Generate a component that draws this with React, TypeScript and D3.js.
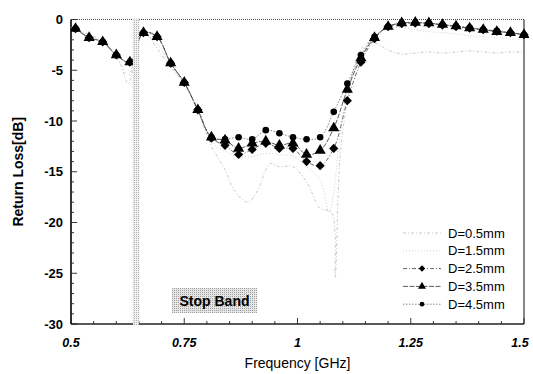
import React from "react";
import * as d3 from "d3";

const W = 533, H = 374;
const M = { left: 71, right: 9, top: 19.5, bottom: 50 };

// marker series frequencies (GHz)
const markerFreq = [0.51,0.54,0.57,0.60,0.63,0.66,0.69,0.72,0.75,0.78,0.81,0.84,0.87,0.90,0.93,0.96,0.99,1.02,1.05,1.08,1.11,1.14,1.17,1.20,1.23,1.26,1.29,1.32,1.35,1.38,1.41,1.44,1.47,1.50];
const d25 = [-0.9,-1.8,-2.2,-3.5,-4.2,-1.3,-1.7,-4.3,-6.2,-8.9,-11.7,-12.4,-13.3,-12.8,-12.2,-12.7,-12.7,-14.0,-14.4,-12.7,-8.0,-4.2,-1.9,-0.7,-0.4,-0.35,-0.4,-0.55,-0.7,-0.85,-1.0,-1.15,-1.3,-1.5];
const d35 = [-0.9,-1.8,-2.2,-3.5,-4.2,-1.3,-1.7,-4.3,-6.2,-8.9,-11.6,-11.9,-12.7,-12.2,-12.0,-12.4,-12.2,-13.3,-12.9,-10.7,-6.9,-3.8,-1.8,-0.7,-0.35,-0.3,-0.35,-0.5,-0.65,-0.85,-1.0,-1.2,-1.3,-1.5];
const d45 = [-0.9,-1.8,-2.2,-3.5,-4.2,-1.3,-1.7,-4.3,-6.2,-8.9,-11.6,-11.8,-11.6,-11.8,-10.9,-11.2,-11.6,-11.8,-11.6,-9.1,-6.3,-3.5,-1.7,-0.7,-0.35,-0.3,-0.35,-0.5,-0.65,-0.8,-1.0,-1.1,-1.3,-1.5];

// dotted series (no markers)
const freq05 = [0.50,0.53,0.56,0.59,0.61,0.626,0.64,0.655,0.67,0.685,0.705,0.73,0.75,0.78,0.81,0.84,0.86,0.89,0.91,0.94,0.96,0.99,1.02,1.05,1.075,1.083,1.09,1.095,1.11,1.13,1.15,1.17,1.20,1.23,1.26,1.29,1.32,1.35,1.38,1.41,1.44,1.47,1.50];
const d05 = [-0.8,-1.3,-1.9,-3.0,-4.5,-6.3,-4.0,-1.5,-1.6,-2.5,-3.8,-5.2,-6.4,-9.0,-12.5,-14.8,-16.8,-18.0,-17.0,-14.2,-14.5,-14.5,-16.0,-18.6,-19.0,-25.4,-17.0,-13.0,-8.0,-4.0,-2.4,-2.3,-3.0,-3.4,-3.3,-3.2,-3.3,-3.2,-3.1,-3.2,-3.3,-3.2,-3.2];
const freq15 = [0.50,0.53,0.56,0.59,0.61,0.625,0.64,0.655,0.67,0.69,0.72,0.75,0.78,0.81,0.84,0.87,0.90,0.93,0.96,0.99,1.02,1.05,1.07,1.08,1.09,1.11,1.14,1.17,1.20,1.23,1.26,1.29,1.32,1.35,1.38,1.41,1.44,1.47,1.50];
const d15 = [-0.8,-1.4,-2.0,-3.2,-4.3,-5.5,-4.0,-1.3,-1.3,-2.3,-4.5,-6.3,-9.0,-12.0,-13.0,-13.5,-13.5,-13.2,-13.3,-13.5,-14.5,-15.8,-19.0,-17.0,-13.0,-7.0,-3.5,-1.6,-0.9,-0.8,-1.0,-1.2,-1.3,-1.4,-1.6,-1.7,-1.8,-1.9,-2.0];

const seriesNames = ["D=0.5mm", "D=1.5mm", "D=2.5mm", "D=3.5mm", "D=4.5mm"];
const xTicks = [0.5, 0.75, 1, 1.25, 1.5];
const xTickLabels = ["0.5", "0.75", "1", "1.25", "1.5"];
const yTicks = [0, -5, -10, -15, -20, -25, -30];
const stopBand = [0.637, 0.65];

export default function App() {
  const x = d3.scaleLinear().domain([0.5, 1.5]).range([M.left, W - M.right]);
  const y = d3.scaleLinear().domain([0, -30]).range([M.top, H - M.bottom]);
  const line = d3.line<[number, number]>().x(d => x(d[0])).y(d => y(d[1])).curve(d3.curveCatmullRom.alpha(0.5));
  const zip = (f: number[], v: number[]) => f.map((ff, i) => [ff, v[i]] as [number, number]);

  const styles = [
    { data: zip(freq05, d05), stroke: "#bcbcbc", dash: "3,2,1,2", width: 0.8, sym: null as any, size: 0, rot: 0 },
    { data: zip(freq15, d15), stroke: "#c4c4c4", dash: "1,2", width: 0.8, sym: null as any, size: 0, rot: 0 },
    { data: zip(markerFreq, d25), stroke: "#444", dash: "4,2,1,2", width: 0.8, sym: d3.symbolSquare, size: 42, rot: 45 },
    { data: zip(markerFreq, d35), stroke: "#333", dash: "5,1.5", width: 0.8, sym: d3.symbolTriangle, size: 54, rot: 0 },
    { data: zip(markerFreq, d45), stroke: "#666", dash: "1.5,1.5", width: 0.8, sym: d3.symbolCircle, size: 34, rot: 0 },
  ];

  const x0 = M.left, x1 = W - M.right, y0 = M.top, y1 = H - M.bottom;
  const minorY = d3.range(0, -31, -1);
  const minorX = d3.range(0.5, 1.5001, 0.05);
  const legX = 403, legY = 233, legDy = 17.8;
  const font = "Liberation Sans, Arial, sans-serif";

  return (
    <svg width={W} height={H} style={{ position: "absolute", left: 0, top: 0, background: "#fff" }} fontFamily={font}>
      <defs>
        <pattern id="stip" width="2" height="2" patternUnits="userSpaceOnUse">
          <rect width="2" height="2" fill="#f2f2f2" />
          <rect width="1" height="1" fill="#b0b0b0" />
        </pattern>
        <pattern id="stip2" width="2" height="2" patternUnits="userSpaceOnUse">
          <rect width="2" height="2" fill="#e6e6e6" />
          <rect width="1" height="1" fill="#a0a0a0" />
        </pattern>
        <clipPath id="clip"><rect x={x0} y={y0 - 5} width={x1 - x0 + 5} height={y1 - y0 + 5} /></clipPath>
      </defs>

      {/* frame */}
      <line x1={x0} x2={x1} y1={y0} y2={y0} stroke="#444" strokeWidth={1.2} strokeDasharray="1,1" />
      <line x1={x1} x2={x1} y1={y0} y2={y1} stroke="#111" strokeWidth={1} />
      <line x1={x0} x2={x1} y1={y1} y2={y1} stroke="#222" strokeWidth={1.3} />
      <line x1={x0} x2={x0} y1={y0} y2={y1} stroke="#000" strokeWidth={1.6} />

      {/* ticks */}
      {minorY.map(v => (
        <line key={"my" + v} x1={x0} x2={x0 + (v % 5 === 0 ? 6 : 3)} y1={y(v)} y2={y(v)} stroke="#222" strokeWidth={0.9} />
      ))}
      {minorX.map((v, i) => (
        <line key={"mx" + i} x1={x(v)} x2={x(v)} y1={y1} y2={y1 - (i % 5 === 0 ? 6 : 3)} stroke="#222" strokeWidth={0.9} />
      ))}

      {/* series */}
      <g clipPath="url(#clip)">
        {styles.map((s, i) => (
          <path key={"l" + i} d={line(s.data) || ""} fill="none" stroke={s.stroke} strokeWidth={s.width} strokeDasharray={s.dash} />
        ))}
        {styles.map((s, i) => s.sym ? s.data.map((p, j) => (
          <path key={"m" + i + "_" + j} d={d3.symbol(s.sym, s.size)() || ""} transform={`translate(${x(p[0])},${y(p[1])}) rotate(${s.rot})`} fill="#000" />
        )) : null)}
      </g>

      {/* stop band */}
      <rect x={x(stopBand[0])} y={y0 - 1} width={x(stopBand[1]) - x(stopBand[0])} height={y1 - y0 + 2} fill="url(#stip)" />
      <line x1={x(stopBand[0])} x2={x(stopBand[0])} y1={y0} y2={y1} stroke="#bbb" strokeWidth={0.8} strokeDasharray="1,1.5" />
      <line x1={x(stopBand[1])} x2={x(stopBand[1])} y1={y0} y2={y1} stroke="#bbb" strokeWidth={0.8} strokeDasharray="1,1.5" />
      <rect x={172} y={288} width={85} height={25} fill="url(#stip2)" />
      <text x={214.5} y={306} textAnchor="middle" fontSize={14} fontWeight="bold" fill="#000">Stop Band</text>

      {/* tick labels */}
      {yTicks.map(v => (
        <text key={"yt" + v} x={63} y={y(v) + 4.5} textAnchor="end" fontSize={13} fontWeight="bold">{v === 0 ? "0" : "-" + Math.abs(v)}</text>
      ))}
      {xTicks.map((v, i) => (
        <text key={"xt" + v} x={x(v) + (i === 4 ? -4 : 0)} y={y1 + 23} textAnchor="middle" fontSize={12.5} fontWeight="bold" fontStyle="italic">{xTickLabels[i]}</text>
      ))}

      {/* axis titles */}
      <text x={(x0 + x1) / 2} y={368} textAnchor="middle" fontSize={14}>Frequency [GHz]</text>
      <text transform={`translate(23,${(y0 + y1) / 2}) rotate(-90)`} textAnchor="middle" fontSize={14} fontWeight="bold">Return Loss[dB]</text>

      {/* legend */}
      {styles.map((s, i) => (
        <g key={"lg" + i} transform={`translate(${legX},${legY + i * legDy})`}>
          <line x1={0} x2={38} y1={0} y2={0} stroke={s.stroke} strokeWidth={s.width} strokeDasharray={s.dash} />
          {s.sym ? <path d={d3.symbol(s.sym, s.size * 0.5)() || ""} transform={`translate(19,0) rotate(${s.rot})`} fill="#000" /> : null}
          <text x={45} y={4.5} fontSize={13}>{seriesNames[i]}</text>
        </g>
      ))}
    </svg>
  );
}
